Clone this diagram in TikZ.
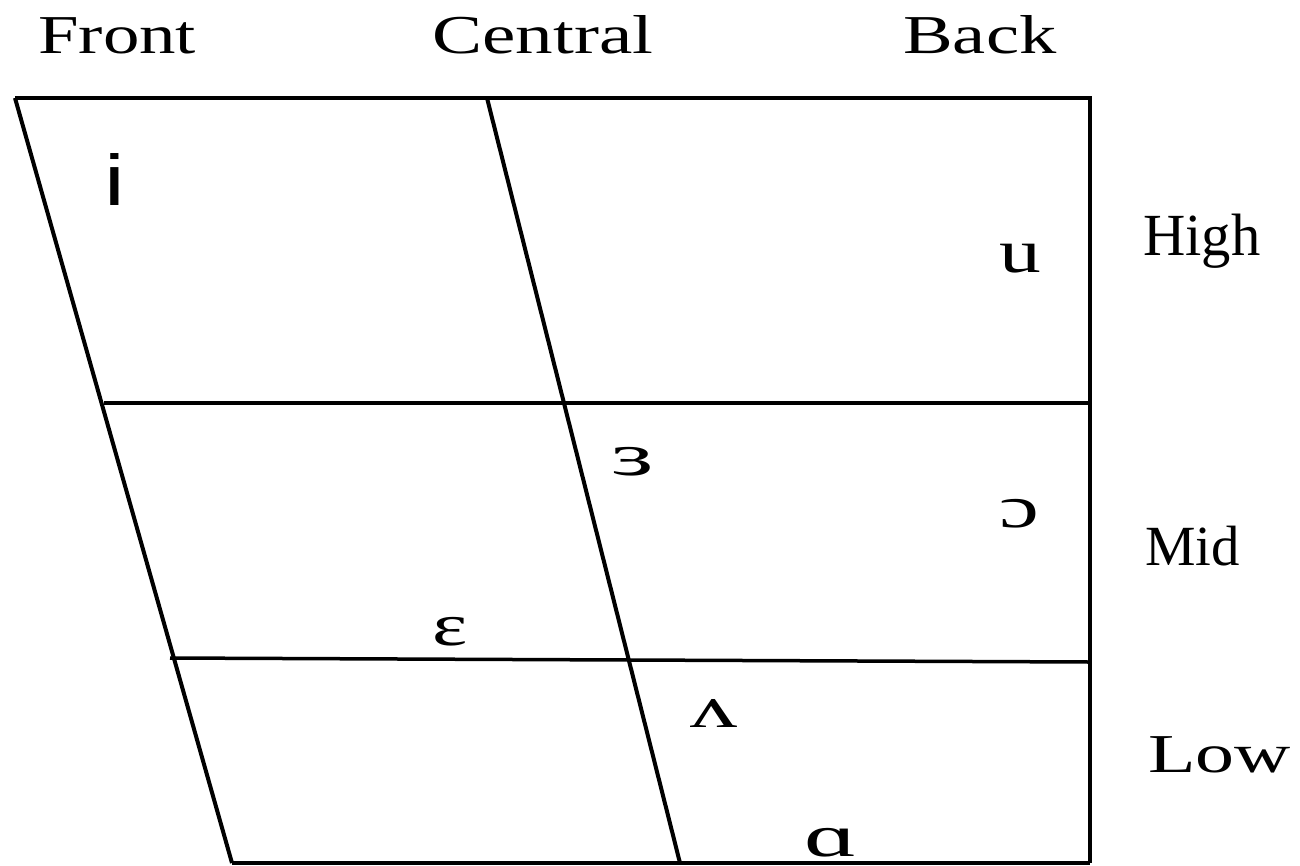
\documentclass[tikz,border=0pt]{standalone}
\usepackage{fontspec}
\newfontfamily\lab{Liberation Serif}
\newfontfamily\ipasans{Liberation Sans}
\begin{document}
\begin{tikzpicture}[x=1bp,y=-1bp,
  grid/.style={line width=4bp,line cap=butt},
  hgrid/.style={line width=3.5bp},
  lbl/.style={anchor=base west,inner sep=0pt},
  vow/.style={anchor=base west,inner sep=0pt}]
\useasboundingbox (0,0) rectangle (1300,865);
% corners
\coordinate (TL) at (15,98);
\coordinate (TC) at (487,98);
\coordinate (TR) at (1090,98);
\coordinate (BL) at (232,863);
\coordinate (BC) at (680,863);
\coordinate (BR) at (1090,863);
\coordinate (H1L) at (104,403);
\coordinate (H1R) at (1090,403);
\coordinate (H2L) at (170,658);
\coordinate (H2R) at (1090,662);
\draw[grid] (TL) -- (TR) -- (BR);
\draw[grid] (TL) -- (BL);
\draw[grid] (TC) -- (BC);
\draw[hgrid] (BL) -- (BR);
\draw[hgrid] (H1L) -- (H1R);
\draw[hgrid] (H2L) -- (H2R);
% labels
\node[lbl,xscale=1.33,font=\lab\fontsize{55}{66}\selectfont] (front) at (38,53) {Front};
\node[lbl,xscale=1.37,font=\lab\fontsize{55}{66}\selectfont] (central) at (432,53) {Central};
\node[lbl,xscale=1.36,font=\lab\fontsize{55}{66}\selectfont] (back) at (903,53) {Back};
\node[lbl,xscale=0.98,font=\lab\fontsize{60}{70}\selectfont] (high) at (1143,255) {High};
\node[lbl,xscale=1.0,font=\lab\fontsize{57}{68}\selectfont] (mid) at (1145,565) {Mid};
\node[lbl,xscale=1.42,font=\lab\fontsize{55}{66}\selectfont] (low) at (1148,772) {Low};
% vowels
\node[vow,xscale=1.3,font=\ipasans\fontsize{72}{80}\selectfont] (vi) at (104,205) {i};
\node[vow,xscale=1.35,font=\lab\fontsize{62}{72}\selectfont] (vu) at (999,272) {u};
\node[vow,xscale=1.7,font=\lab\fontsize{60}{70}\selectfont] (ver) at (611,475) {ɜ};
\node[vow,xscale=1.5,font=\lab\fontsize{60}{70}\selectfont] (vo) at (999,527) {ɔ};
\node[vow,xscale=1.4,font=\lab\fontsize{60}{70}\selectfont] (ve) at (432,645) {ɛ};
\node[vow,xscale=1.57,font=\lab\fontsize{60}{70}\selectfont] (vv) at (690,727) {ʌ};
\node[vow,xscale=1.7,font=\lab\fontsize{60}{70}\selectfont] (va) at (804,856) {ɑ};
\end{tikzpicture}
\end{document}
